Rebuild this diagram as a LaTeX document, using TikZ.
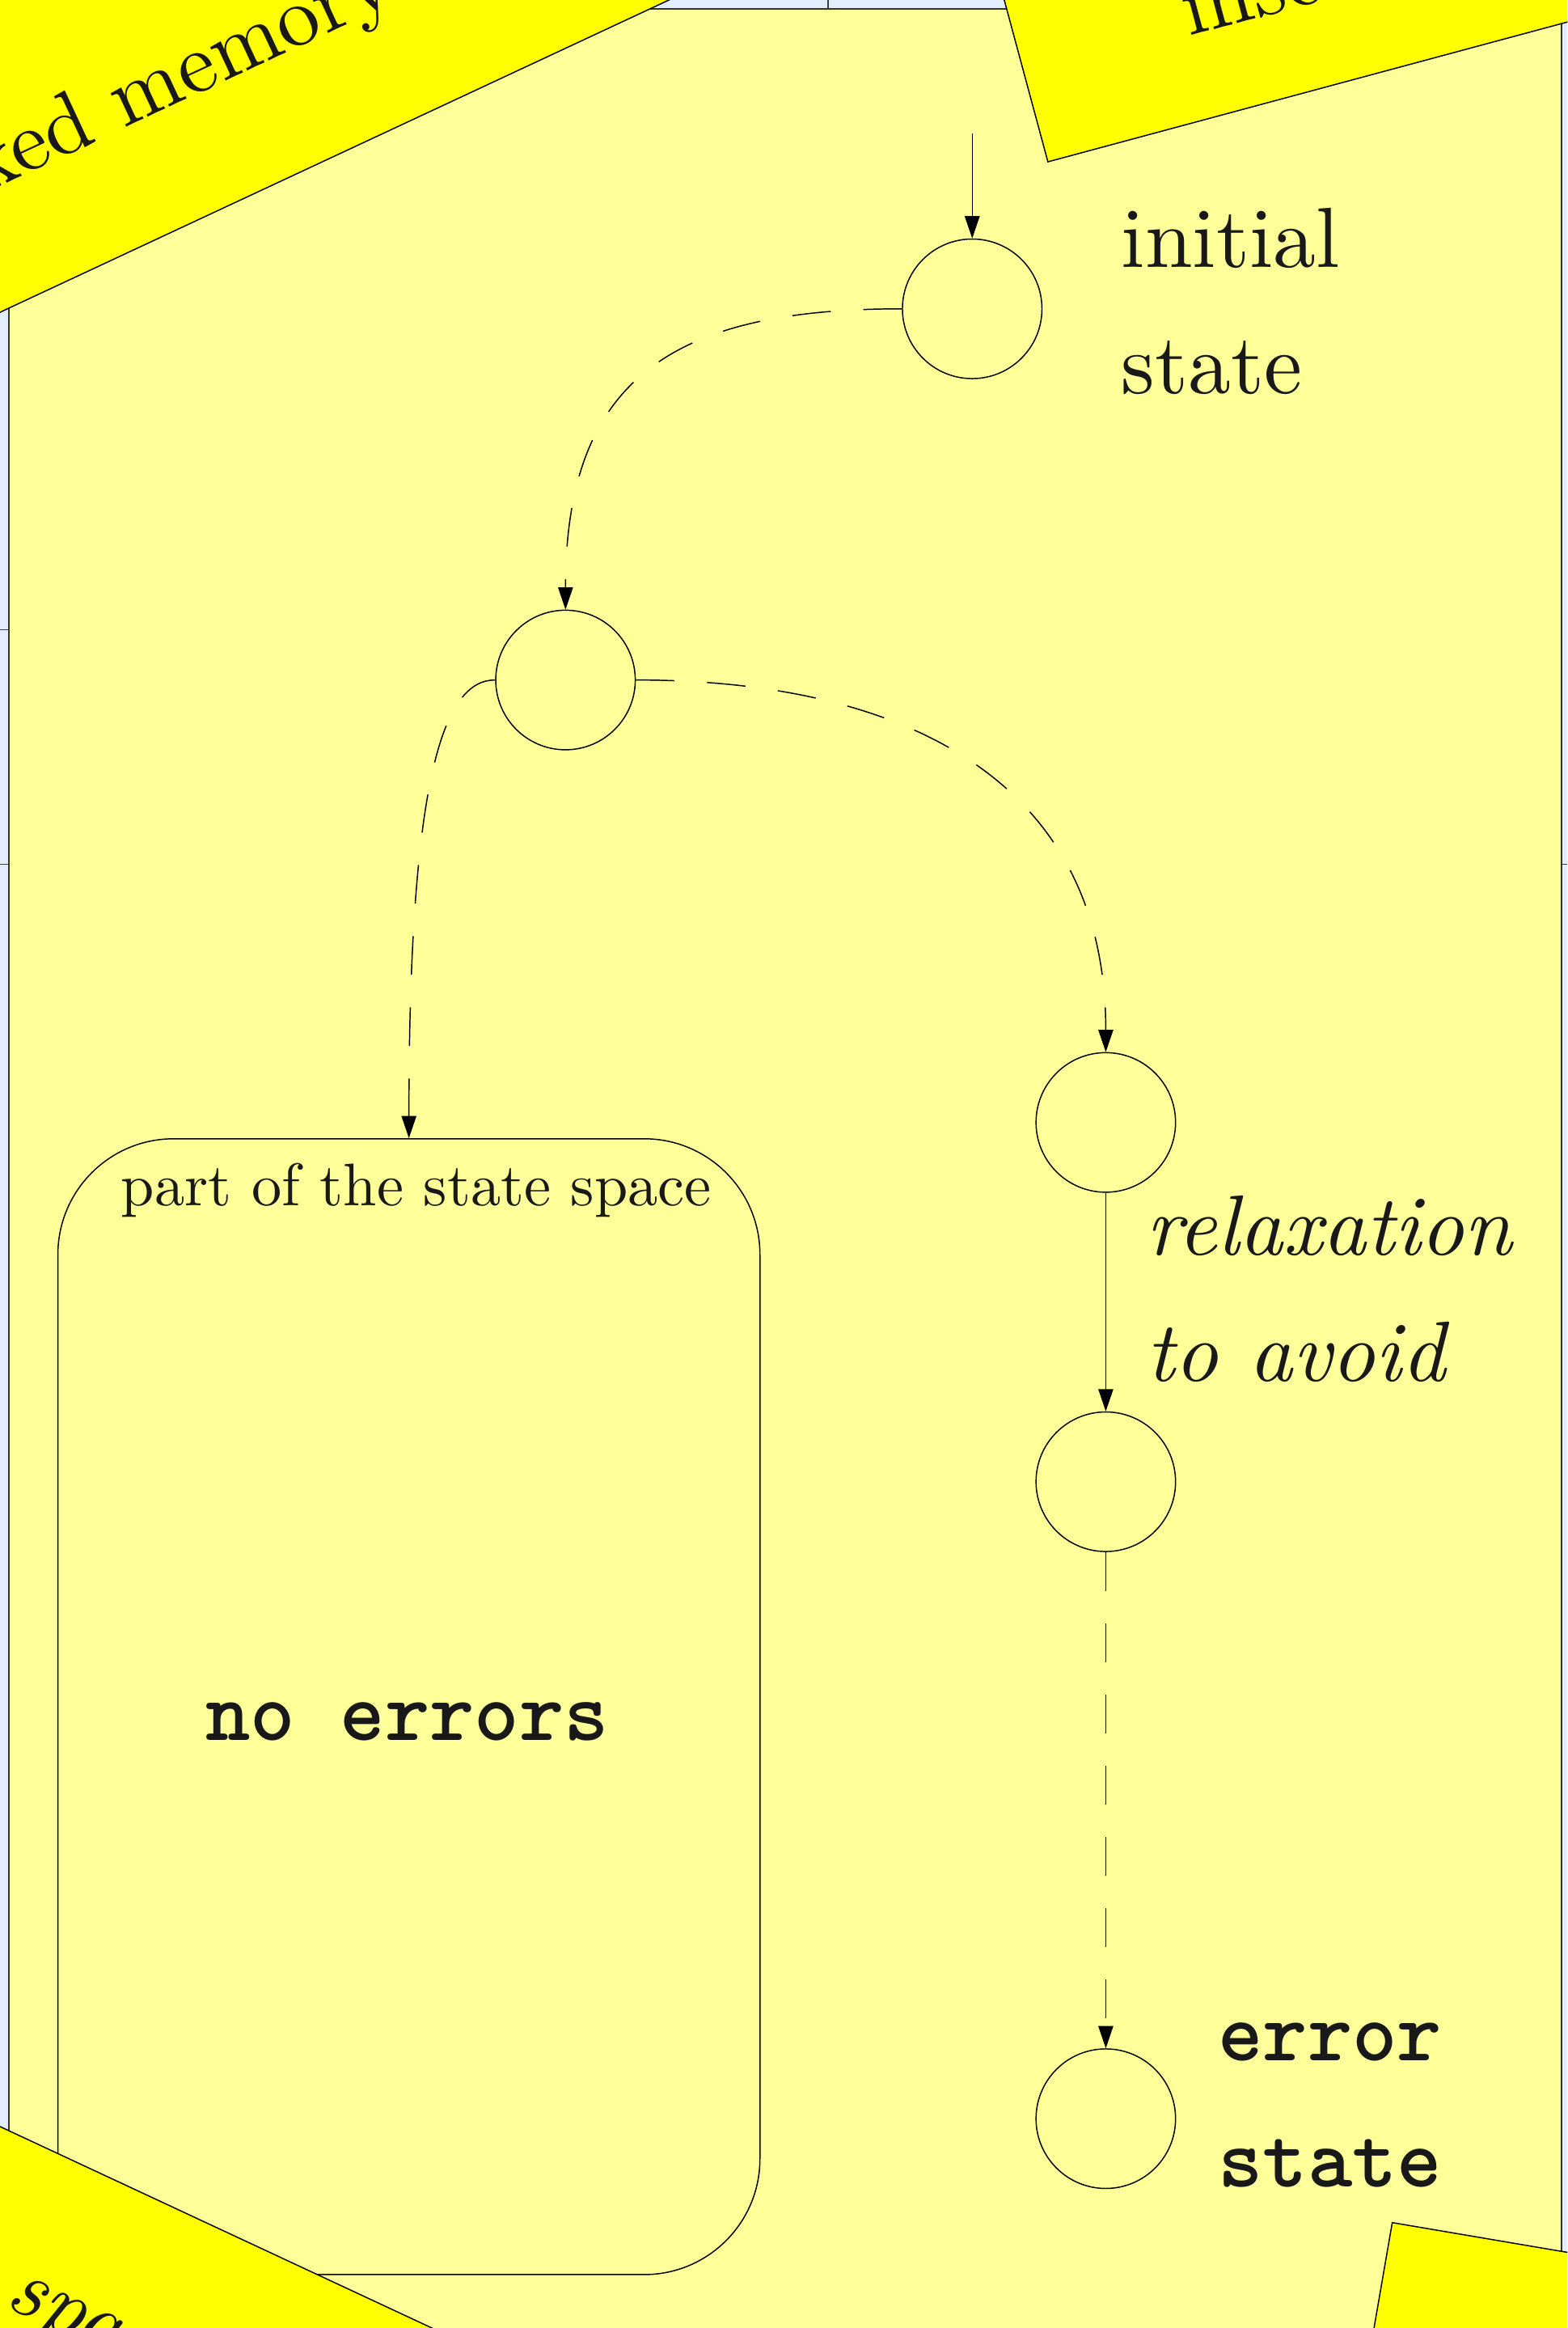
\documentclass[tikz,border=0pt]{standalone}
\usepackage{fontspec}
\setmainfont{lmroman10-regular}[Extension=.otf,ItalicFont=lmroman10-italic,BoldFont=lmroman10-bold]
\setmonofont{lmmono10-regular}[Extension=.otf,BoldFont=lmmonolt10-bold]
\usetikzlibrary{arrows.meta,positioning}

\definecolor{slideblue}{RGB}{226,238,255}
\definecolor{paleyellow}{RGB}{255,255,153}
\definecolor{noteyellow}{RGB}{255,255,0}

\newcommand{\bigtext}{\fontsize{57.5}{85}\selectfont}
\newcommand{\midtext}{\fontsize{40.5}{50}\selectfont}

\tikzset{
  state/.style={circle,draw,line width=0.8pt,minimum size=94pt,inner sep=0pt},
  trans/.style={-{Triangle[length=15pt,width=10pt]},line width=0.8pt},
  dashtrans/.style={trans,dash pattern=on 26pt off 22pt},
  note/.style={draw,fill=noteyellow,line width=0.8pt},
  label/.style={inner sep=0pt,text=black!90,font=\bigtext}
}

\begin{document}
\begin{tikzpicture}[x=1pt,y=-1pt]
		\clip (0,0) rectangle (1056,1568);
		\fill[slideblue] (0,0) rectangle (1056,1568);
		% grid behind the slide
		\draw[black!75,line width=0.8pt] (558,0)--(558,100);
		\draw[black!75,line width=0.8pt] (0,424)--(100,424);
		\draw[black!75,line width=0.8pt] (0,582)--(1056,582);
		% panel
		\draw[draw=black!80,fill=paleyellow,line width=1pt] (6,6) rectangle (1052,1620);
		% part of the state space
		\node[draw,line width=0.8pt,rounded corners=78pt,minimum width=473pt,minimum height=765pt] (part) at (275.5,1149.5) {};
		\node[label,font=\midtext,anchor=base] (parttitle) at (280.5,812) {part of the state space};
		\node[label,font=\bigtext\ttfamily\bfseries,anchor=base] (noerr) at (274.5,1172) {no errors};
		% states
		\node[state] (s0) at (655,208) {};
		\node[state] (s1) at (381,458) {};
		\node[state] (s2) at (745,756) {};
		\node[state] (s3) at (745,998) {};
		\node[state] (err) at (745,1427) {};
		\node[label,align=left,right=53pt of s0,yshift=5pt] (initlabel) {initial\\state};
		\node[label,font=\bigtext\ttfamily\bfseries,align=left,right=28pt of err,yshift=9pt] (errlabel) {error\\state};
		% transitions
		\coordinate (start) at (655,90);
		\draw[trans] (start) -- (s0);
		\draw[dashtrans] (s0.west) .. controls +(-155,0) and +(0,-155) .. (s1.north);
		\draw[dashtrans] (s1.west) .. controls +(-34,0) and +(0,-247) .. (part.north);
		\draw[dashtrans] (s1.east) .. controls +(182,0) and +(0,-182) .. (s2.north);
		\draw[trans] (s2) -- node[label,font=\bigtext\itshape,align=left,right=27pt,yshift=9pt] (relaxlabel) {relaxation\\to avoid} (s3);
		\draw[dashtrans] (s3) -- (err);
		% notes on top
		\draw[note] (-100,257) -- (560,-51) -- (560,-400) -- (-100,-400) -- cycle;
		\node[label,rotate=25,anchor=base east] (notemem) at (268,0.5) {locked memory};
		\draw[note] (672,-17) -- (706,109) -- (1100,3) -- (1100,-17) -- cycle;
		\node[label,rotate=15,anchor=base west] (noteins) at (801,24.5) {inserted};
		\draw[note] (-50,1409) -- (350,1595.5) -- (350,1700) -- (-50,1700) -- cycle;
		\node[label,font=\bigtext\itshape,rotate=-25,anchor=base east] (notespace) at (120,1608) {state space};
		\draw[note] (920,1601) -- (938,1497) -- (1100,1524.5) -- (1100,1601) -- cycle;
	\end{tikzpicture}
\end{document}
